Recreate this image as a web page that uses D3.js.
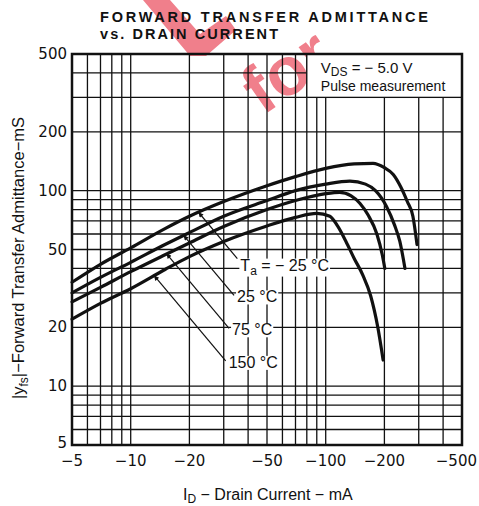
<!DOCTYPE html>
<html>
<head>
<meta charset="utf-8">
<script src="https://cdn.jsdelivr.net/npm/d3@7"></script>
<style>
body { margin: 0; background: #fff; }
svg { display: block; }
text { font-family: "Liberation Sans", Arial, sans-serif; fill: #111; }
</style>
</head>
<body>
<div id="chart"></div>
<script>
// drain current magnitude (mA, plotted as negative) vs |yfs| (mS)
var idM25 = [5, 7, 10, 15, 20, 30, 50, 70, 100, 140, 175, 200, 222, 242, 262, 280, 294];
var yfsM25 = [34, 42, 51, 64, 74, 88, 106, 118, 130, 137, 138, 131, 121, 105, 88, 74, 53];

var id25 = [5, 7, 10, 15, 20, 30, 50, 70, 100, 133, 160, 180, 205, 225, 240, 255];
var yfs25 = [30, 36, 43, 53, 61, 74, 89, 100, 108, 112, 108, 100, 83, 67, 55, 40];

var id75 = [5, 7, 10, 15, 20, 30, 50, 70, 100, 118, 135, 150, 165, 183, 195, 201];
var yfs75 = [27, 32, 38.5, 47, 54, 65.5, 80, 89, 96.5, 98, 94, 86, 75, 60, 47, 40];

var id150 = [5, 7, 10, 15, 20, 30, 50, 70, 90, 105, 115, 127, 140, 155, 170, 185, 197];
var yfs150 = [22, 26.5, 31.5, 39.5, 46, 55, 66, 73, 76.5, 74, 66, 55, 45, 37, 29, 20, 13.6];

var tempNames = ["-25", "25", "75", "150"];
// where each temperature label sits (mA, mS of baseline)
var labelId = [36.5, 35.1, 33.1, 31.8];
var labelYfs = [39.0, 26.8, 18.2, 12.4];

var xTicks = [5, 10, 20, 50, 100, 200, 500];
var yTicks = [5, 10, 20, 50, 100, 200, 500];
var gridVals = [6, 7, 8, 9, 10, 20, 30, 40, 50, 60, 70, 80, 90, 100, 200, 300, 400];

var width = 479, height = 506;
var margin = {top: 54, right: 17, bottom: 61, left: 72};

var svg = d3.select("#chart").append("svg")
    .attr("width", width)
    .attr("height", height);

var x = d3.scaleLog().domain([5, 500]).range([margin.left, width - margin.right]);
var y = d3.scaleLog().domain([5, 500]).range([height - margin.bottom, margin.top]);

// pink watermark behind everything
var pink = "#f07f8b";
svg.append("text")
    .attr("transform", "translate(300,90) rotate(-35)")
    .attr("text-anchor", "middle")
    .style("font-size", "68px")
    .style("font-weight", "bold")
    .style("fill", pink)
    .text("for");
// piece of the watermark's upper word that shows at the top edge
svg.append("path")
    .attr("d", "M143,0L170,0L200,34L226,16L236,30L206,56L190,56z")
    .attr("fill", pink);

// title
svg.append("text")
    .attr("x", 100).attr("y", 22)
    .attr("textLength", 328).attr("lengthAdjust", "spacing")
    .style("font-size", "14.5px").style("font-weight", "bold")
    .text("FORWARD TRANSFER ADMITTANCE");
svg.append("text")
    .attr("x", 100).attr("y", 39)
    .attr("textLength", 178).attr("lengthAdjust", "spacing")
    .style("font-size", "14.5px").style("font-weight", "bold")
    .text("vs. DRAIN CURRENT");

// grid
var grid = svg.append("g").attr("class", "grid");
grid.selectAll(".vx")
    .data(gridVals)
    .enter()
    .append("line")
    .attr("x1", function (d) { return x(d); })
    .attr("x2", function (d) { return x(d); })
    .attr("y1", y(5))
    .attr("y2", y(500))
    .attr("stroke", "#111")
    .attr("stroke-width", 1.3);
grid.selectAll(".hy")
    .data(gridVals)
    .enter()
    .append("line")
    .attr("y1", function (d) { return y(d); })
    .attr("y2", function (d) { return y(d); })
    .attr("x1", x(5))
    .attr("x2", x(500))
    .attr("stroke", "#111")
    .attr("stroke-width", 1.3);

// condition box in the top right corner
svg.append("rect")
    .attr("x", x(80)).attr("y", y(500))
    .attr("width", x(500) - x(80))
    .attr("height", y(300) - y(500))
    .attr("fill", "#fff")
    .attr("stroke", "#111")
    .attr("stroke-width", 1.3);
var vds = svg.append("text")
    .attr("x", x(80) + 14).attr("y", y(500) + 19)
    .style("font-size", "15px");
vds.append("tspan").text("V");
vds.append("tspan").attr("dy", 3).style("font-size", "12px").text("DS");
vds.append("tspan").attr("dy", -3).text(" = \u2212 5.0 V");
svg.append("text")
    .attr("x", x(80) + 14).attr("y", y(500) + 37)
    .style("font-size", "14px")
    .text("Pulse measurement");

// frame
svg.append("rect")
    .attr("x", x(5)).attr("y", y(500))
    .attr("width", x(500) - x(5))
    .attr("height", y(5) - y(500))
    .attr("fill", "none")
    .attr("stroke", "#111")
    .attr("stroke-width", 2.5);

// tick labels
svg.selectAll(".ylab")
    .data(yTicks)
    .enter()
    .append("text")
    .attr("x", 67)
    .attr("y", function (d) { return y(d) + (d === 5 ? 3 : 5); })
    .attr("text-anchor", "end")
    .style("font-family", "DejaVu Sans")
    .style("font-size", "15px")
    .text(function (d) { return d; });
svg.selectAll(".xlab")
    .data(xTicks)
    .enter()
    .append("text")
    .attr("x", function (d) { return d === 500 ? 477 : x(d); })
    .attr("y", 466)
    .attr("text-anchor", function (d) { return d === 500 ? "end" : "middle"; })
    .style("font-family", "DejaVu Sans")
    .style("font-size", "15px")
    .text(function (d) { return "\u2212" + d; });

// axis titles
var yt = svg.append("text")
    .attr("transform", "translate(24,258) rotate(-90)")
    .attr("text-anchor", "middle")
    .style("font-size", "16.5px");
yt.append("tspan").text("|y");
yt.append("tspan").attr("dy", 4).style("font-size", "12px").text("fs");
yt.append("tspan").attr("dy", -4).text("|\u2212Forward Transfer Admittance\u2212mS");

var xt = svg.append("text")
    .attr("x", 183).attr("y", 500)
    .style("font-size", "16px");
xt.append("tspan").text("I");
xt.append("tspan").attr("dy", 3).style("font-size", "12px").text("D");
xt.append("tspan").attr("dy", -3).text(" \u2212 Drain Current \u2212 mA");

// curves
var series = [
    {ids: idM25, vals: yfsM25},
    {ids: id25, vals: yfs25},
    {ids: id75, vals: yfs75},
    {ids: id150, vals: yfs150}
];
series.forEach(function (s) {
    s.pts = s.ids.map(function (d, i) { return [d, s.vals[i]]; });
});

var line = d3.line()
    .x(function (d) { return x(d[0]); })
    .y(function (d) { return y(d[1]); })
    .curve(d3.curveMonotoneX);

// pixel y of a curve at pixel x (straight between read points)
function curveAt(s, px) {
    for (var i = 0; i < s.pts.length - 1; i++) {
        var x0 = x(s.pts[i][0]), x1 = x(s.pts[i + 1][0]);
        if (px >= x0 && px <= x1) {
            var t = (px - x0) / (x1 - x0);
            return y(s.pts[i][1]) + t * (y(s.pts[i + 1][1]) - y(s.pts[i][1]));
        }
    }
    return y(s.pts[0][1]);
}

svg.append("defs").append("marker")
    .attr("id", "arrow")
    .attr("viewBox", "0 0 10 10")
    .attr("refX", 10).attr("refY", 5)
    .attr("markerWidth", 10).attr("markerHeight", 5)
    .attr("markerUnits", "userSpaceOnUse")
    .attr("orient", "auto")
    .append("path")
    .attr("d", "M0,0L10,5L0,10z")
    .attr("fill", "#111");

// temperature labels with leader arrows (white behind the text, as in the print)
var ang = 50 * Math.PI / 180;
var labelLayer = svg.append("g");
tempNames.forEach(function (name, i) {
    var lx = x(labelId[i]), ly = y(labelYfs[i]);
    var g = labelLayer.append("g");
    var bg = g.append("rect").attr("fill", "#fff");
    var t = g.append("text").attr("x", lx).attr("y", ly).style("font-size", "16px");
    if (i === 0) {
        t.append("tspan").text("T");
        t.append("tspan").attr("dy", 4).style("font-size", "12px").text("a");
        t.append("tspan").attr("dy", -4).text(" = \u2212 25 \u00b0C");
    } else {
        t.text(name + " \u00b0C");
    }
    var bb = t.node().getBBox();
    bg.attr("x", bb.x - 1).attr("y", bb.y + 2)
        .attr("width", bb.width + 2).attr("height", bb.height - 3);

    var sx = lx - 3, sy = ly - (i === 0 ? 12 : 7);
    var ex = sx, ey = sy;
    for (var k = 0; k < 400; k += 0.5) {
        ex = sx - k * Math.cos(ang);
        ey = sy - k * Math.sin(ang);
        if (ey <= curveAt(series[i], ex)) break;
    }
    g.append("line")
        .attr("x1", sx).attr("y1", sy)
        .attr("x2", ex).attr("y2", ey)
        .attr("stroke", "#111")
        .attr("stroke-width", 1.2)
        .attr("marker-end", "url(#arrow)");
});

svg.selectAll(".curve")
    .data(series)
    .enter()
    .append("path")
    .attr("class", "curve")
    .attr("d", function (d) { return line(d.pts); })
    .attr("fill", "none")
    .attr("stroke", "#111")
    .attr("stroke-width", 3.2)
    .attr("stroke-linecap", "round");
</script>
</body>
</html>
